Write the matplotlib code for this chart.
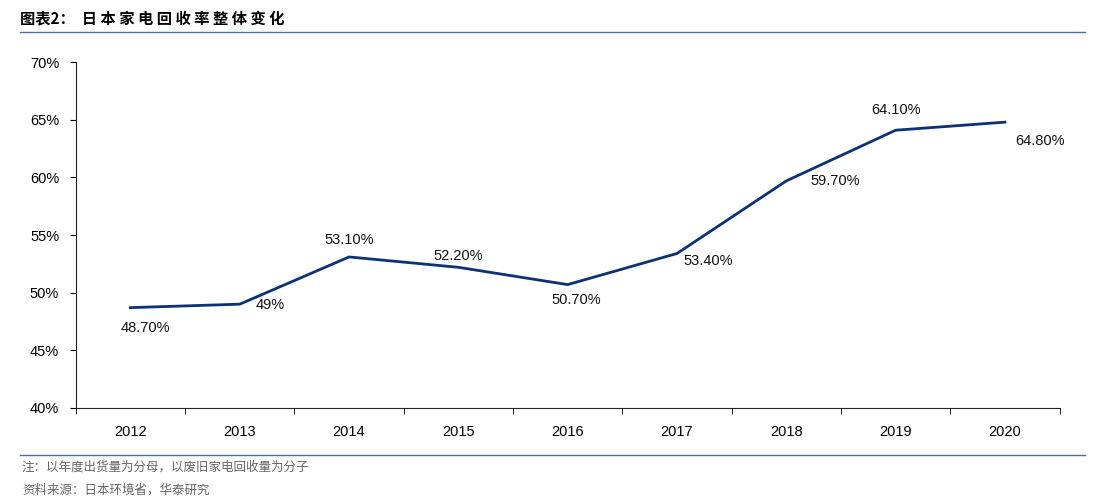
import matplotlib
matplotlib.use("Agg")
import matplotlib.pyplot as plt
from matplotlib.lines import Line2D

plt.rcParams['font.family'] = ['Liberation Sans', 'Noto Sans CJK SC', 'DejaVu Sans']

years = ["2012","2013","2014","2015","2016","2017","2018","2019","2020"]
rates = [48.7, 49.0, 53.1, 52.2, 50.7, 53.4, 59.7, 64.1, 64.8]
labels = ["48.70%","49%","53.10%","52.20%","50.70%","53.40%","59.70%","64.10%","64.80%"]
# label offsets in pixels (dx, dy up)
offs = [(15,-20),(30,-1),(0,17),(0,11),(9,-15),(31,-8),(49,0),(0,20),(35,-19)]

fig = plt.figure(figsize=(10.98,4.98), dpi=100)
ax = fig.add_axes([0.069, 0.181, 0.896, 0.694])
x = list(range(len(years)))
ax.plot(x, rates, color='#0b3275', lw=2)
for xi, yi, lab, (dx, dy) in zip(x, rates, labels, offs):
    ax.annotate(lab, (xi, yi), xytext=(dx*0.72, dy*0.72), textcoords='offset points',
                ha='center', va='center', fontsize=10.5, color='#111111')
ax.set_xlim(-0.5, len(years)-0.5)
ax.set_ylim(40, 70)
ax.set_yticks(range(40, 71, 5))
ax.set_yticklabels([f"{v}%" for v in range(40, 71, 5)], fontsize=10.5)
ax.set_xticks(x)
ax.set_xticklabels(years, fontsize=10.5)
ax.set_xticks([i-0.5 for i in range(len(years)+1)], minor=True)
ax.tick_params(axis='x', which='major', length=0, pad=12)
ax.tick_params(axis='x', which='minor', length=4, direction='out')
ax.tick_params(axis='y', length=4, direction='out', pad=8)
for s in ['top','right']:
    ax.spines[s].set_visible(False)
for s in ['left','bottom']:
    ax.spines[s].set_color('#222222')

fig.text(0.018, 0.963, "图表2：  日 本 家 电 回 收 率 整 体 变 化", fontsize=11, fontweight='bold',
         va='center', family=['Noto Sans CJK SC','DejaVu Sans'])
fig.add_artist(Line2D([0.018, 0.988], [0.936, 0.936], color='#4a6fa5', lw=1))
fig.add_artist(Line2D([0.018, 0.988], [0.086, 0.086], color='#4a6fa5', lw=1))
fig.text(0.02, 0.062, "注：以年度出货量为分母，以废旧家电回收量为分子", fontsize=9, color='#666666',
         va='center', family=['Noto Sans CJK SC','DejaVu Sans'])
fig.text(0.02, 0.016, "资料来源：日本环境省，华泰研究", fontsize=9, color='#666666',
         va='center', family=['Noto Sans CJK SC','DejaVu Sans'])
fig.savefig("out.png", dpi=100)
